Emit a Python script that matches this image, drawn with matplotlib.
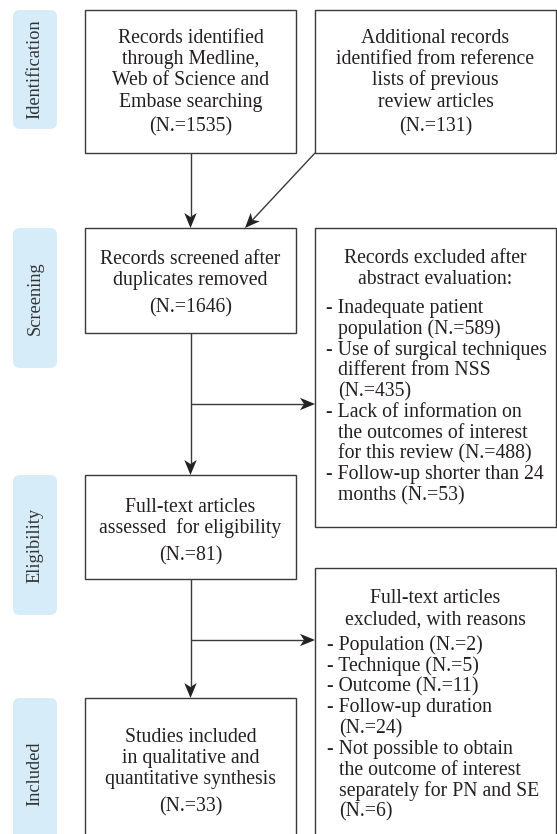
import numpy as np
import matplotlib
matplotlib.use("Agg")
import matplotlib.pyplot as plt
from matplotlib.patches import FancyBboxPatch, Rectangle, Polygon

# ---- content ----
stages = ["Identification", "Screening", "Eligibility", "Included"]

identified_lines = ["Records identified", "through Medline,",
                    "Web of Science and", "Embase searching"]
identified_n = 1535
additional_lines = ["Additional records", "identified from reference",
                    "lists of previous", "review articles"]
additional_n = 131
screened_lines = ["Records screened after", "duplicates removed"]
screened_n = 1646
fulltext_lines = ["Full-text articles", "assessed  for eligibility"]
fulltext_n = 81
included_lines = ["Studies included", "in qualitative and",
                  "quantitative synthesis"]
included_n = 33

excl_abstract_head = ["Records excluded after", "abstract evaluation:"]
excl_abstract_items = [["Inadequate patient", "population (N.=589)"],
                       ["Use of surgical techniques", "different from NSS", "(N.=435)"],
                       ["Lack of information on", "the outcomes of interest",
                        "for this review (N.=488)"],
                       ["Follow-up shorter than 24", "months (N.=53)"]]
excl_full_head = ["Full-text articles", "excluded, with reasons"]
excl_full_items = [["Population (N.=2)"],
                   ["Technique (N.=5)"],
                   ["Outcome (N.=11)"],
                   ["Follow-up duration", "(N.=24)"],
                   ["Not possible to obtain", "the outcome of interest",
                    "separately for PN and SE", "(N.=6)"]]

# ---- layout (pixel space) ----
W, H = 557, 834
SERIF = ["Liberation Serif", "DejaVu Serif"]
TXT = "#231f20"
EDGE = "#3a3a3a"
PILL = "#d6ecf8"
FS = 14.2
LS = 21.2

fig = plt.figure(figsize=(W / 100, H / 100), dpi=100)
ax = fig.add_axes([0, 0, 1, 1])
ax.set_xlim(0, W)
ax.set_ylim(H, 0)
ax.axis("off")

LX0, LX1 = 85, 296
RX0, RX1 = 315, 556
CX = (LX0 + LX1) / 2

pill_spans = [(10, 129), (228, 368), (475, 615), (698, 850)]
for name, (y0, y1) in zip(stages, pill_spans):
    ax.add_patch(FancyBboxPatch((13, y0), 44, y1 - y0,
                                boxstyle="round,pad=0,rounding_size=7",
                                fc=PILL, ec="none"))
    ax.text(35, (y0 + y1) / 2, name, rotation=90, ha="center", va="center",
            fontsize=13.2, family=SERIF, color="#333333")


def box(x0, x1, y0, y1):
    ax.add_patch(Rectangle((x0, y0), x1 - x0, y1 - y0, fc="white",
                           ec=EDGE, lw=1.0))


def centered(x, first, lines, n=None, gap=26.5):
    y = first
    for ln in lines:
        ax.text(x, y, ln, ha="center", va="baseline", fontsize=FS,
                family=SERIF, color=TXT)
        y += LS
    if n is not None:
        ax.text(x, y - LS + gap, f"(N.={n})", ha="center", va="baseline",
                fontsize=FS, family=SERIF, color=TXT)


def bullets(x, first, items, step=20.8):
    y = first
    for item in items:
        for k, ln in enumerate(item):
            if k == 0:
                ax.text(x, y, "- " + ln, ha="left", va="baseline",
                        fontsize=FS, family=SERIF, color=TXT)
            else:
                ax.text(x + 12, y, ln, ha="left", va="baseline",
                        fontsize=FS, family=SERIF, color=TXT)
            y += step


def arrow(p0, p1, hl=15, hw=6.2, notch=4):
    p0 = np.array(p0, float)
    p1 = np.array(p1, float)
    d = (p1 - p0) / np.hypot(*(p1 - p0))
    nrm = np.array([-d[1], d[0]])
    base = p1 - d * hl
    ax.plot([p0[0], base[0] + d[0] * notch], [p0[1], base[1] + d[1] * notch],
            color=EDGE, lw=1.0, solid_capstyle="butt")
    head = [p1, base + nrm * hw, base + d * notch, base - nrm * hw]
    ax.add_patch(Polygon(head, closed=True, fc="#222222", ec="none"))


# left column
box(LX0, LX1, 10, 153)
centered(CX, 43, identified_lines, identified_n, gap=24.5)
box(LX0, LX1, 228, 333)
centered(CX, 264, screened_lines, screened_n, gap=27)
box(LX0, LX1, 475, 579)
centered(CX, 512, fulltext_lines, fulltext_n, gap=27)
box(LX0, LX1, 698, 850)
centered(CX, 742, included_lines, included_n, gap=27)

# right column
RCX = (RX0 + RX1) / 2
box(RX0, RX1, 10, 153)
centered(RCX, 43, additional_lines, additional_n, gap=24.5)
box(RX0, RX1, 228, 527)
centered(RCX, 263, excl_abstract_head)
bullets(326, 313, excl_abstract_items)
box(RX0, RX1, 568, 850)
centered(RCX, 603, excl_full_head)
bullets(327, 650, excl_full_items)

# connectors
arrow((CX, 153), (CX, 228))
arrow((RX0, 153), (245, 228))
arrow((CX, 333), (CX, 475))
arrow((CX, 404), (RX0, 404))
arrow((CX, 579), (CX, 698))
arrow((CX, 640), (RX0, 640))

fig.savefig("out.png", dpi=100, facecolor="white")
